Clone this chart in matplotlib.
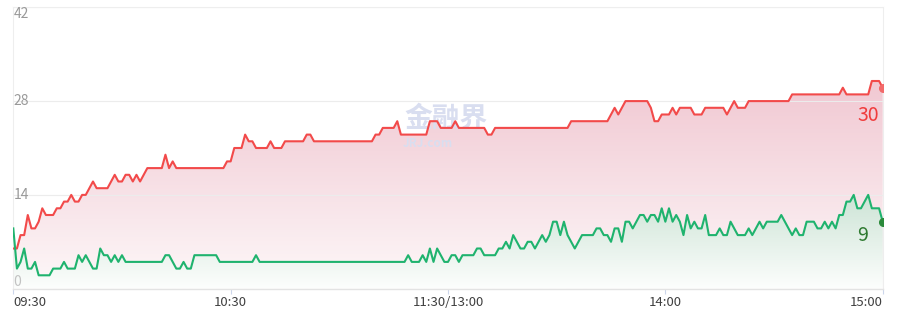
import numpy as np
import matplotlib
matplotlib.use("Agg")
import matplotlib.pyplot as plt
import matplotlib.colors as mcolors
import matplotlib.transforms as mtransforms

plt.rcParams['font.family'] = ['Noto Sans CJK SC', 'DejaVu Sans']

# minute-by-minute values, 09:30 -> 11:30 then 13:00 -> 15:00 (241 points)
red_vals = [6, 6, 8, 8, 11, 9, 9, 10, 12, 11,
            11, 11, 12, 12, 13, 13, 14, 13, 13, 14,
            14, 15, 16, 15, 15, 15, 15, 16, 17, 16,
            16, 17, 17, 16, 17, 16, 17, 18, 18, 18,
            18, 18, 20, 18, 19, 18, 18, 18, 18, 18,
            18, 18, 18, 18, 18, 18, 18, 18, 18, 19,
            19, 21, 21, 21, 23, 22, 22, 21, 21, 21,
            21, 22, 21, 21, 21, 22, 22, 22, 22, 22,
            22, 23, 23, 22, 22, 22, 22, 22, 22, 22,
            22, 22, 22, 22, 22, 22, 22, 22, 22, 22,
            23, 23, 24, 24, 24, 24, 25, 23, 23, 23,
            23, 23, 23, 23, 23, 25, 25, 25, 24, 24,
            24, 24, 25, 24, 24, 24, 24, 24, 24, 24,
            24, 23, 23, 24, 24, 24, 24, 24, 24, 24,
            24, 24, 24, 24, 24, 24, 24, 24, 24, 24,
            24, 24, 24, 24, 25, 25, 25, 25, 25, 25,
            25, 25, 25, 25, 25, 26, 27, 26, 27, 28,
            28, 28, 28, 28, 28, 28, 27, 25, 25, 26,
            26, 26, 27, 26, 27, 27, 27, 27, 26, 26,
            26, 27, 27, 27, 27, 27, 27, 26, 27, 28,
            27, 27, 27, 28, 28, 28, 28, 28, 28, 28,
            28, 28, 28, 28, 28, 29, 29, 29, 29, 29,
            29, 29, 29, 29, 29, 29, 29, 29, 29, 30,
            29, 29, 29, 29, 29, 29, 29, 31, 31, 31,
            30]

green_vals = [9, 3, 4, 6, 3, 3, 4, 2, 2, 2,
              2, 3, 3, 3, 4, 3, 3, 3, 5, 4,
              5, 4, 3, 3, 6, 5, 5, 4, 5, 4,
              5, 4, 4, 4, 4, 4, 4, 4, 4, 4,
              4, 4, 5, 5, 4, 3, 3, 4, 3, 3,
              5, 5, 5, 5, 5, 5, 5, 4, 4, 4,
              4, 4, 4, 4, 4, 4, 4, 5, 4, 4,
              4, 4, 4, 4, 4, 4, 4, 4, 4, 4,
              4, 4, 4, 4, 4, 4, 4, 4, 4, 4,
              4, 4, 4, 4, 4, 4, 4, 4, 4, 4,
              4, 4, 4, 4, 4, 4, 4, 4, 4, 5,
              4, 4, 4, 5, 4, 6, 4, 6, 5, 4,
              4, 5, 5, 4, 5, 5, 5, 5, 6, 6,
              5, 5, 5, 5, 6, 6, 7, 6, 8, 7,
              6, 6, 7, 7, 6, 7, 8, 7, 8, 10,
              10, 8, 10, 8, 7, 6, 7, 8, 8, 8,
              8, 9, 9, 8, 8, 7, 9, 9, 7, 10,
              10, 9, 10, 11, 11, 10, 11, 11, 10, 12,
              10, 12, 10, 11, 10, 8, 11, 9, 10, 9,
              9, 11, 8, 8, 8, 9, 8, 8, 10, 9,
              8, 8, 8, 9, 8, 9, 10, 9, 10, 10,
              10, 10, 11, 10, 9, 8, 9, 8, 8, 10,
              10, 10, 9, 9, 10, 9, 10, 9, 11, 11,
              13, 13, 14, 12, 12, 13, 14, 12, 12, 12,
              10]

tick_pos = [0, 60, 120, 180, 240]
tick_labels = ['09:30', '10:30', '11:30/13:00', '14:00', '15:00']
y_ticks = [0, 14, 28, 42]
red_label = '30'
green_label = '9'

RED = '#f24a4a'
GREEN = '#1fb36e'


def gradient_fill(ax, x, y, top_color, bottom_color, ymax, z):
    # fill under the line with a vertical colour gradient
    poly = ax.fill_between(x, y, 0, facecolor='none', edgecolor='none')
    path = poly.get_paths()[0]
    n = 200
    top = np.array(mcolors.to_rgb(top_color))
    bot = np.array(mcolors.to_rgb(bottom_color))
    t = np.linspace(0, 1, n)[:, None]
    img = (top * (1 - t) + bot * t)[:, None, :]
    im = ax.imshow(img, aspect='auto', extent=[x[0], x[-1], 0, ymax],
                   origin='upper', zorder=z, interpolation='bilinear')
    im.set_clip_path(path, transform=ax.transData)


fig = plt.figure(figsize=(9.11, 3.11), dpi=100)
ax = fig.add_axes([13.3 / 911, 22.3 / 311, 869.4 / 911, 281.4 / 311])

x = np.arange(len(red_vals))

gradient_fill(ax, x, red_vals, '#f1c8d2', '#fdf8f9', max(red_vals), 1)
gradient_fill(ax, x, green_vals, '#cde4d6', '#fdfefd', max(green_vals), 1.1)

for v in y_ticks[1:]:
    ax.axhline(v, color='#ececec', lw=0.8, zorder=2)

ax.plot(x, red_vals, color=RED, lw=1.5, zorder=3)
ax.plot(x, green_vals, color=GREEN, lw=1.5, zorder=3)
ax.plot(x[-1], red_vals[-1], 'o', color='#f26a6a', ms=5.5, zorder=4, clip_on=True)
ax.plot(x[-1], green_vals[-1], 'o', color='#2a8a3a', ms=5.5, zorder=4, clip_on=True)

# watermark
ax.text(0.498, 0.605, '金融界', transform=ax.transAxes, ha='center', va='center',
        fontsize=20, fontweight='bold', color='#d9def0', zorder=2.5)
ax.text(0.477, 0.515, 'JRJ.com', transform=ax.transAxes, ha='center', va='center',
        fontsize=8.5, fontweight='bold', color='#d9def0', zorder=2.6)

ax.set_xlim(0, 240)
ax.set_ylim(0, 42)

for s in ['top', 'left', 'right']:
    ax.spines[s].set_color('#eeeeee')
    ax.spines[s].set_linewidth(0.8)
ax.spines['bottom'].set_color('#e3e3e3')
ax.spines['bottom'].set_linewidth(1)

ax.set_xticks(tick_pos)
ax.set_xticklabels(tick_labels)
ax.tick_params(axis='x', length=3.5, width=0.8, color='#ccd6eb', pad=1.5,
               labelsize=9.5, labelcolor='#404040')
labels = ax.get_xticklabels()
labels[0].set_ha('left')
labels[-1].set_ha('right')
ax.set_yticks([])

# y labels drawn inside the plot
trans = mtransforms.blended_transform_factory(ax.transAxes, ax.transData)
for v in y_ticks:
    if v == 42:
        va = 'top'
    elif v == 0:
        va = 'bottom'
    else:
        va = 'center'
    col = '#c2c2c2' if v == 0 else '#999999'
    ax.text(0.0, v, str(v), transform=trans, ha='left', va=va,
            fontsize=10, color=col, zorder=5)

# end value labels
ax.text(0.9705, 25.9, red_label, transform=trans, ha='left', va='center',
        fontsize=14, color='#f03c3c', zorder=5)
ax.text(0.9705, 8.0, green_label, transform=trans, ha='left', va='center',
        fontsize=14, color='#2e7a30', zorder=5)

plt.savefig('out.png', dpi=100)
